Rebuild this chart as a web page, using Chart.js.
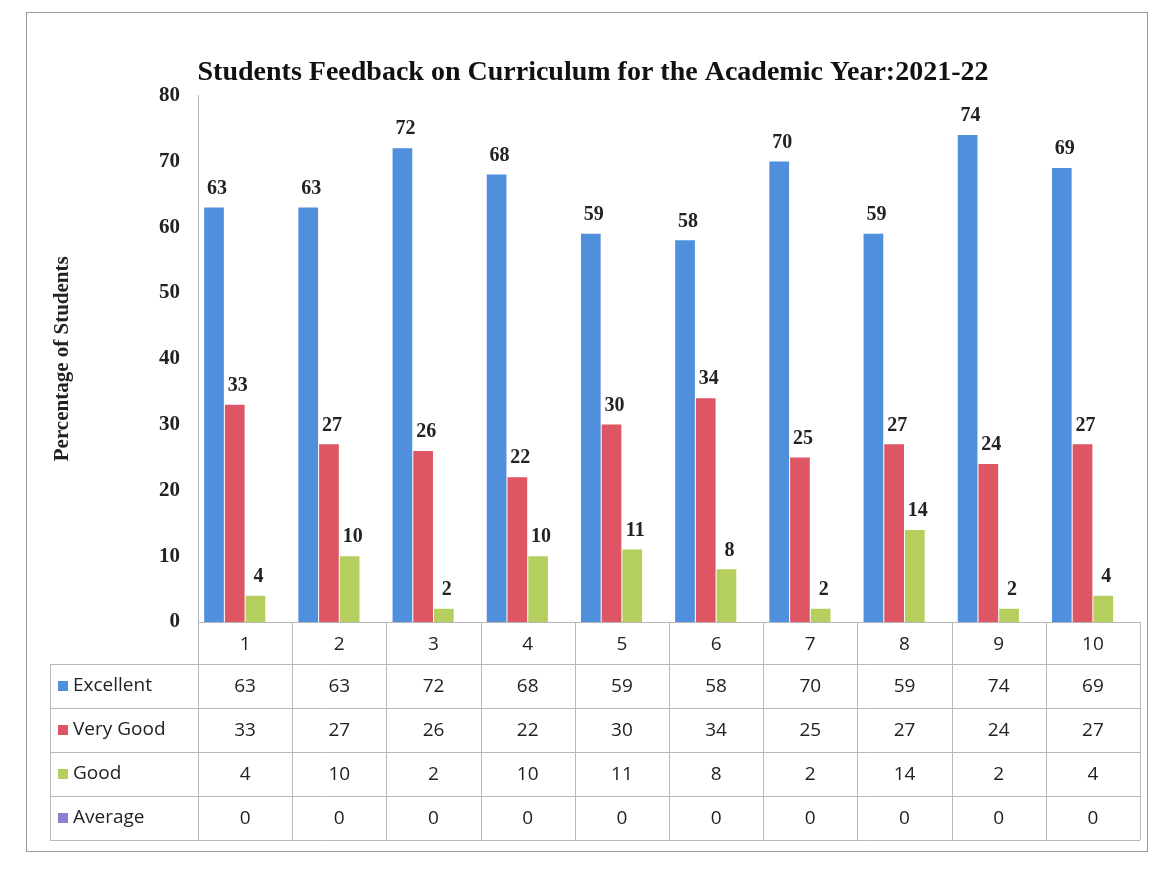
<!DOCTYPE html>
<html>
<head>
<meta charset="utf-8">
<script src="https://cdn.jsdelivr.net/npm/chart.js@4"></script>
<style>
  html, body { margin: 0; padding: 0; background: #fff; }
  #wrap { position: relative; width: 1176px; height: 872px; }
  #frame { position: absolute; left: 26px; top: 12px; width: 1122px; height: 840px; border: 1px solid #9a9a9a; box-sizing: border-box; }
</style>
</head>
<body>
<div id="wrap">
  <div id="frame"></div>
  <canvas id="chart" width="1176" height="872"></canvas>
</div>
<script>
// chart data
const categories = ['1', '2', '3', '4', '5', '6', '7', '8', '9', '10'];
const seriesNames = ['Excellent', 'Very Good', 'Good', 'Average'];
const excellent = [63, 63, 72, 68, 59, 58, 70, 59, 74, 69];
const veryGood = [33, 27, 26, 22, 30, 34, 25, 27, 24, 27];
const good = [4, 10, 2, 10, 11, 8, 2, 14, 2, 4];
const average = [0, 0, 0, 0, 0, 0, 0, 0, 0, 0];
const yTicks = [0, 10, 20, 30, 40, 50, 60, 70, 80];

const colors = ['#4f8fdc', '#de5563', '#b5cf5e', '#8a7fd0'];
const allSeries = [excellent, veryGood, good, average];

const serif = '"Liberation Serif", "DejaVu Serif", serif';
const sans = '"Open Sans", "Noto Sans", sans-serif';

// value labels above bars (not for Average)
const barLabels = {
    id: 'barLabels',
    afterDatasetsDraw(chart) {
        const c = chart.ctx;
        c.save();
        c.font = 'bold 20px ' + serif;
        c.fillStyle = '#222';
        c.textAlign = 'center';
        c.textBaseline = 'bottom';
        chart.data.datasets.forEach((ds, i) => {
            if (i === 3) return;
            chart.getDatasetMeta(i).data.forEach((bar, j) => {
                c.fillText(ds.data[j], bar.x + 3, bar.y - 9);
            });
        });
        c.restore();
    }
};

// data table under the plot
const dataTable = {
    id: 'dataTable',
    afterDraw(chart) {
        const c = chart.ctx;
        const x = chart.scales.x;
        const area = chart.chartArea;
        const colW = (area.right - area.left) / categories.length;
        const headH = 42, rowH = 44;
        const top = area.bottom;
        const leftCol = 50;
        c.save();
        c.strokeStyle = '#b8b8b8';
        c.lineWidth = 1;
        c.beginPath();
        c.moveTo(area.left, top + 0.5);
        c.lineTo(area.right, top + 0.5);
        for (let i = 0; i <= categories.length; i++) {
            const px = Math.round(area.left + i * colW) + 0.5;
            c.moveTo(px, top);
            c.lineTo(px, top + headH + rowH * 4);
        }
        for (let r = 0; r <= 4; r++) {
            const py = Math.round(top + headH + r * rowH) + 0.5;
            c.moveTo(leftCol, py);
            c.lineTo(area.right, py);
        }
        c.moveTo(leftCol + 0.5, top + headH);
        c.lineTo(leftCol + 0.5, top + headH + rowH * 4);
        c.stroke();

        c.font = '19px ' + sans;
        c.fillStyle = '#222';
        c.textAlign = 'center';
        c.textBaseline = 'middle';
        categories.forEach((cat, i) => {
            c.fillText(cat, x.getPixelForValue(i), top + headH / 2 + 2);
        });
        allSeries.forEach((vals, r) => {
            const cy = top + headH + r * rowH + rowH / 2 + 1;
            vals.forEach((v, i) => {
                c.fillText(v, x.getPixelForValue(i), cy);
            });
            c.fillStyle = colors[r];
            c.fillRect(leftCol + 8, cy - 6, 10, 10);
            c.fillStyle = '#222';
            c.textAlign = 'left';
            c.fillText(seriesNames[r], leftCol + 23, cy - 1);
            c.textAlign = 'center';
        });
        c.restore();
    }
};

const ctx = document.getElementById('chart').getContext('2d');
new Chart(ctx, {
    type: 'bar',
    data: {
        labels: categories,
        datasets: seriesNames.map((name, i) => ({
            label: name,
            data: allSeries[i],
            backgroundColor: colors[i],
            borderWidth: 0,
            barPercentage: 0.95,
            categoryPercentage: 0.88
        }))
    },
    options: {
        responsive: false,
        animation: false,
        layout: { padding: { left: 46, right: 36, top: 0, bottom: 242 } },
        plugins: {
            legend: { display: false },
            tooltip: { enabled: false },
            title: {
                display: true,
                text: 'Students Feedback on Curriculum for the Academic Year:2021-22',
                color: '#111',
                font: { family: serif, size: 28, weight: 'bold' },
                padding: { top: 56, bottom: 6 }
            }
        },
        scales: {
            x: {
                grid: { display: false },
                border: { display: false },
                ticks: { display: false }
            },
            y: {
                min: 0,
                max: 80,
                afterFit: s => { s.width = 152; },
                afterBuildTicks: s => { s.ticks = yTicks.map(v => ({ value: v })); },
                grid: { display: false },
                border: { display: true, color: '#b8b8b8' },
                ticks: {
                    color: '#222',
                    padding: 10,
                    font: { family: serif, size: 21, weight: 'bold' }
                },
                title: {
                    display: true,
                    text: 'Percentage of Students',
                    color: '#222',
                    padding: { bottom: 58 },
                    font: { family: serif, size: 21, weight: 'bold' }
                }
            }
        }
    },
    plugins: [barLabels, dataTable]
});
</script>
</body>
</html>
